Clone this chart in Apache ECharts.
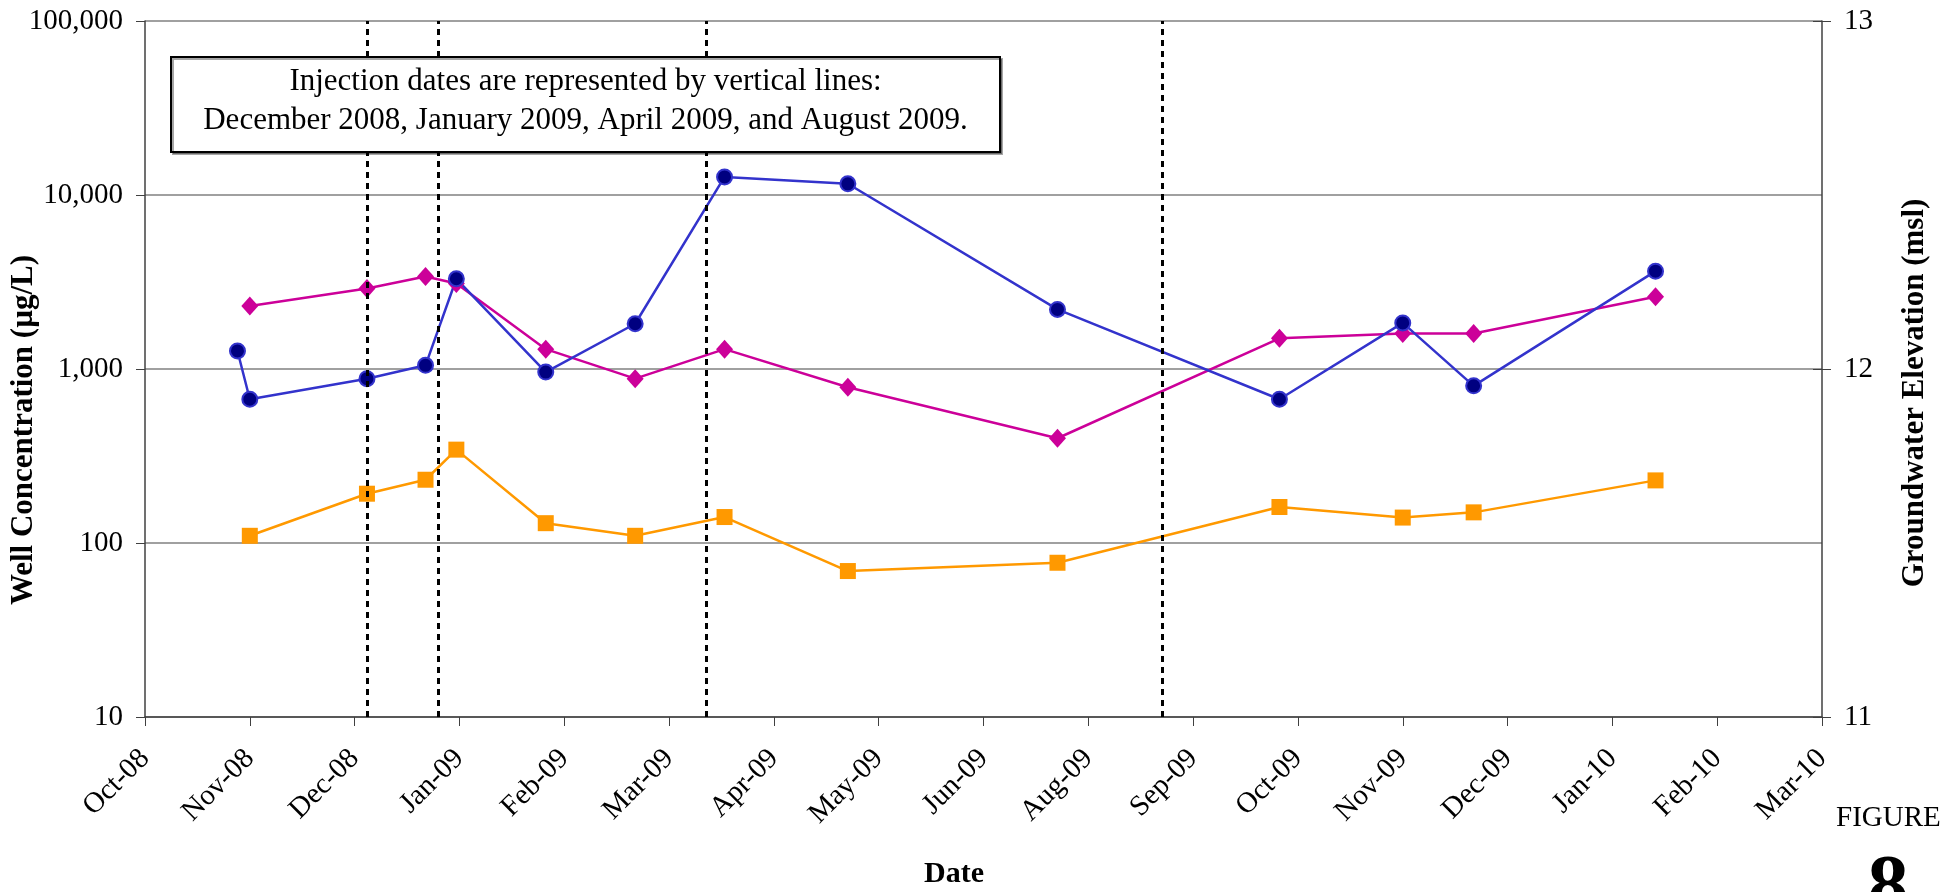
<!DOCTYPE html>
<html>
<head>
<meta charset="utf-8">
<script src="https://cdn.jsdelivr.net/npm/echarts@6/dist/echarts.min.js"></script>
<style>
html,body{margin:0;padding:0;background:#fff;}
#c{width:1944px;height:892px;}
</style>
</head>
<body>
<div id="c"></div>
<script>
// ---- data ----
var axisStart = '2008-10-01';
var axisIntervalDays = 34;
var axisEndDays = 544;
var blueDates = ['2008-10-31','2008-11-04','2008-12-12','2008-12-31','2009-01-10','2009-02-08','2009-03-09','2009-04-07','2009-05-17','2009-07-24','2009-10-04','2009-11-13','2009-12-06','2010-02-03'];
var blueValues = [1270, 670, 880, 1050, 3300, 960, 1820, 12700, 11600, 2200, 670, 1840, 800, 3650];
var pinkDates = ['2008-11-04','2008-12-12','2008-12-31','2009-01-10','2009-02-08','2009-03-09','2009-04-07','2009-05-17','2009-07-24','2009-10-04','2009-11-13','2009-12-06','2010-02-03'];
var pinkValues = [2300, 2900, 3400, 3100, 1300, 880, 1300, 785, 400, 1500, 1600, 1600, 2600];
var orangeDates = ['2008-11-04','2008-12-12','2008-12-31','2009-01-10','2009-02-08','2009-03-09','2009-04-07','2009-05-17','2009-07-24','2009-10-04','2009-11-13','2009-12-06','2010-02-03'];
var orangeValues = [110, 192, 231, 344, 130, 110, 141, 69, 77, 161, 140, 150, 229];
var injectionDates = ['2008-12-12','2009-01-04','2009-04-01','2009-08-27'];
var leftTicks = [10, 100, 1000, 10000, 100000];
var rightTicks = [11, 12, 13];
var monthNames = ['Jan','Feb','Mar','Apr','May','Jun','Jul','Aug','Sep','Oct','Nov','Dec'];
var noteLines = ['Injection dates are represented by vertical lines:', 'December 2008, January 2009, April 2009, and August 2009.'];

// ---- helpers ----
function utc(s){ var p = s.split('-'); return Date.UTC(+p[0], +p[1]-1, +p[2]); }
var t0 = utc(axisStart);
function dayOf(s){ return (utc(s) - t0) / 86400000; }
function pairs(dates, vals){ return dates.map(function(d,i){ return [dayOf(d), vals[i]]; }); }
function dayLabel(v){
  var d = new Date(t0 + v*86400000);
  var yy = String(d.getUTCFullYear() % 100); if (yy.length < 2) yy = '0' + yy;
  return monthNames[d.getUTCMonth()] + '-' + yy;
}
var FONT = 'Liberation Serif';
var AX = '#404040';

var chart = echarts.init(document.getElementById('c'), null, {renderer:'canvas'});
chart.setOption({
  animation: false,
  backgroundColor: '#fff',
  grid: {left:145, right:122, top:21, bottom:175, containLabel:false},
  xAxis: {
    type:'value', min:0, max:axisEndDays, interval:axisIntervalDays,
    axisLine:{show:true, onZero:false, lineStyle:{color:AX, width:1.5}},
    axisTick:{show:true, inside:false, length:9, lineStyle:{color:AX, width:1}},
    splitLine:{show:false},
    axisLabel:{show:true, rotate:45, margin:37, fontFamily:FONT, fontSize:29, color:'#000',
      showMinLabel:true, showMaxLabel:true, formatter:dayLabel}
  },
  yAxis: [
    {
      type:'log', logBase:10, min:leftTicks[0], max:leftTicks[leftTicks.length-1], position:'left',
      axisLine:{show:true, lineStyle:{color:AX, width:1.5}},
      axisTick:{show:true, inside:false, length:9, lineStyle:{color:AX, width:1}},
      minorTick:{show:false},
      splitLine:{show:true, lineStyle:{color:'#808080', width:1.5}},
      axisLabel:{margin:22, fontFamily:FONT, fontSize:29, color:'#000',
        formatter:function(v){ return Math.round(v).toLocaleString('en-US'); }}
    },
    {
      type:'value', min:rightTicks[0], max:rightTicks[rightTicks.length-1], interval:1, position:'right',
      axisLine:{show:true, lineStyle:{color:AX, width:1.5}},
      axisTick:{show:true, inside:false, length:9, lineStyle:{color:AX, width:1}},
      splitLine:{show:false},
      axisLabel:{margin:22, fontFamily:FONT, fontSize:29, color:'#000'}
    },
    {
      type:'value', min:rightTicks[0], max:rightTicks[rightTicks.length-1], interval:1, position:'right',
      axisLine:{show:false},
      axisTick:{show:true, inside:true, length:9, lineStyle:{color:AX, width:1}},
      splitLine:{show:false},
      axisLabel:{show:false}
    }
  ],
  series: [
    {
      type:'line', yAxisIndex:0, data:[], silent:true,
      markLine:{
        symbol:['none','none'], silent:true, label:{show:false},
        lineStyle:{color:'#000', width:3, type:[6,5]},
        emphasis:{disabled:true},
        data: injectionDates.map(function(d){ return {xAxis: dayOf(d)}; })
      }
    },
    {
      name:'orange', type:'line', yAxisIndex:0, data:pairs(orangeDates, orangeValues),
      symbol:'rect', symbolSize:16,
      lineStyle:{color:'#FF9900', width:2.5},
      itemStyle:{color:'#FF9900', borderWidth:0}
    },
    {
      name:'pink', type:'line', yAxisIndex:0, data:pairs(pinkDates, pinkValues),
      symbol:'diamond', symbolSize:[17,19],
      lineStyle:{color:'#CC0099', width:2.5},
      itemStyle:{color:'#CC0099', borderWidth:0}
    },
    {
      name:'blue', type:'line', yAxisIndex:0, data:pairs(blueDates, blueValues),
      symbol:'circle', symbolSize:15,
      lineStyle:{color:'#3333CC', width:2.5},
      itemStyle:{color:'#000080', borderColor:'#3333CC', borderWidth:2}
    }
  ],
  graphic: [
    {type:'rect', z:100, shape:{x:171, y:57, width:829, height:95},
      style:{fill:'#fff', stroke:'#000', lineWidth:2, shadowColor:'rgba(0,0,0,0.35)', shadowOffsetX:2, shadowOffsetY:2}},
    {type:'text', z:101, x:585.5, y:82, style:{text:noteLines[0], font:'31px "Liberation Serif"', fill:'#000', textAlign:'center', textVerticalAlign:'middle'}},
    {type:'text', z:101, x:585.5, y:121, style:{text:noteLines[1], font:'31px "Liberation Serif"', fill:'#000', textAlign:'center', textVerticalAlign:'middle'}},
    {type:'text', z:101, x:24, y:430, rotation:Math.PI/2, style:{text:'Well Concentration (µg/L)', font:'bold 31px "Liberation Serif"', fill:'#000', textAlign:'center', textVerticalAlign:'middle'}},
    {type:'text', z:101, x:1915, y:393, rotation:Math.PI/2, style:{text:'Groundwater Elevation (msl)', font:'bold 31px "Liberation Serif"', fill:'#000', textAlign:'center', textVerticalAlign:'middle'}},
    {type:'text', z:101, x:954, y:874, style:{text:'Date', font:'bold 30px "Liberation Serif"', fill:'#000', textAlign:'center', textVerticalAlign:'middle'}},
    {type:'text', z:101, x:1836, y:818, style:{text:'FIGURE', font:'29px "Liberation Serif"', fill:'#000', textAlign:'left', textVerticalAlign:'middle'}},
    {type:'text', z:101, x:1888, y:890, style:{text:'8', font:'bold 82px "Liberation Serif"', fill:'#000', textAlign:'center', textVerticalAlign:'middle'}}
  ]
});
</script>
</body>
</html>
